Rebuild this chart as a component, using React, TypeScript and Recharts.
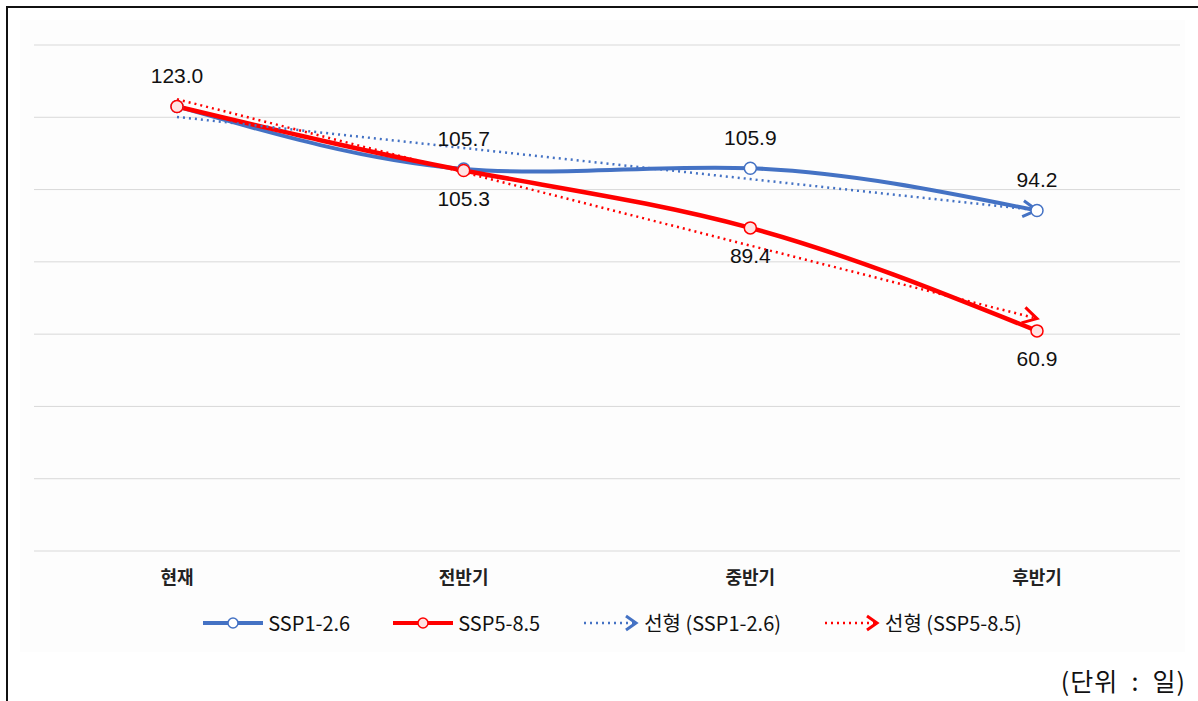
import { LineChart, Line, XAxis, YAxis, CartesianGrid, Legend, LabelList } from 'recharts';

const periods = ['현재', '전반기', '중반기', '후반기'];
const ssp126 = [123.0, 105.7, 105.9, 94.2];
const ssp585 = [123.0, 105.3, 89.4, 60.9];
// trend values
const trend126 = [120.1, 111.5, 102.9, 94.3];
const trend585 = [125.0, 104.8, 84.5, 64.3];
const yTicks = [0, 20, 40, 60, 80, 100, 120, 140];

const BLUE = '#4472C4';
const RED = '#FF0000';
const FONT = '"Liberation Sans", "Noto Sans CJK KR", sans-serif';
const KFONT = '"Noto Sans CJK KR", "Noto Sans", sans-serif';

const data = periods.map((p, i) => ({
  period: p,
  ssp126: ssp126[i],
  ssp585: ssp585[i],
  trend126: trend126[i],
  trend585: trend585[i],
}));

const legendItems = [
  { name: 'SSP1-2.6', color: BLUE, dotted: false },
  { name: 'SSP5-8.5', color: RED, dotted: false },
  { name: '선형 (SSP1-2.6)', color: BLUE, dotted: true },
  { name: '선형 (SSP5-8.5)', color: RED, dotted: true },
];

function LegendIcon({ color, dotted }: { color: string; dotted: boolean }) {
  if (dotted) {
    return (
      <svg width={58} height={20}>
        <line x1={2} y1={10} x2={52} y2={10} stroke={color} strokeWidth={2.5} strokeDasharray="2 4" />
        <path d="M44,3 L54,10 L44,17" fill="none" stroke={color} strokeWidth={3} />
      </svg>
    );
  }
  return (
    <svg width={62} height={20}>
      <line x1={1} y1={10} x2={61} y2={10} stroke={color} strokeWidth={4} />
      <circle cx={31} cy={10} r={5} fill={color === RED ? '#ffe3e3' : '#fff'} stroke={color} strokeWidth={1.5} />
    </svg>
  );
}

function CustomLegend() {
  return (
    <div style={{ display: 'flex', justifyContent: 'center', paddingTop: 7, paddingLeft: 10 }}>
      {legendItems.map((it) => (
        <div key={it.name} style={{ display: 'flex', alignItems: 'center', margin: '0 21px' }}>
          <LegendIcon color={it.color} dotted={it.dotted} />
          <span style={{ fontFamily: KFONT, fontSize: 20, color: '#111', marginLeft: 4 }}>{it.name}</span>
        </div>
      ))}
    </div>
  );
}

const renderBelow = (props: any) => {
  const { x, y, value, index } = props;
  if (index === 0) return null;
  return (
    <text x={x} y={y + 30} textAnchor="middle" dominantBaseline="middle" fontSize={21} fill="#111" fontFamily={FONT}>
      {Number(value).toFixed(1)}
    </text>
  );
};

const renderAbove = (props: any) => {
  const { x, y, value } = props;
  return (
    <text x={x} y={y - 29} textAnchor="middle" dominantBaseline="middle" fontSize={21} fill="#111" fontFamily={FONT}>
      {Number(value).toFixed(1)}
    </text>
  );
};

export default function App() {
  return (
    <div style={{ position: 'absolute', left: 0, top: 0, width: 1198, height: 701, overflow: 'hidden', background: '#fff' }}>
      <div
        style={{
          position: 'absolute',
          left: 6,
          top: 6,
          width: 1300,
          height: 800,
          borderTop: '2px solid #111',
          borderLeft: '2px solid #111',
        }}
      />
      <div style={{ position: 'absolute', left: 20, top: 20, width: 1165, height: 632, background: '#fdfdfd' }} />
      <div style={{ position: 'absolute', left: 0, top: 0 }}>
        <LineChart width={1198} height={660} data={data} margin={{ top: 45, right: 18, left: 34, bottom: 0 }}>
          <defs>
            <marker id="arrowBlue" viewBox="0 0 20 20" refX={17} refY={10} markerWidth={20} markerHeight={20} markerUnits="userSpaceOnUse" orient="auto">
              <path d="M3,2 L17,10 L3,18" fill="none" stroke={BLUE} strokeWidth={3} strokeDasharray="none" />
            </marker>
            <marker id="arrowRed" viewBox="0 0 20 20" refX={17} refY={10} markerWidth={20} markerHeight={20} markerUnits="userSpaceOnUse" orient="auto">
              <path d="M3,2 L17,10 L3,18" fill="none" stroke={RED} strokeWidth={3} strokeDasharray="none" />
            </marker>
          </defs>
          <CartesianGrid vertical={false} stroke="#d9d9d9" strokeWidth={1} />
          <XAxis
            dataKey="period"
            axisLine={false}
            tickLine={false}
            height={50}
            tickMargin={14}
            tick={{ fontSize: 18, fontWeight: 700, fill: '#222', fontFamily: KFONT }}
            padding={{ left: 143, right: 143 }}
          />
          <YAxis hide domain={[0, 140]} ticks={yTicks} />
          <Legend verticalAlign="bottom" height={59} content={() => <CustomLegend />} />
          <Line
            type="natural"
            dataKey="ssp126"
            stroke={BLUE}
            strokeWidth={4}
            dot={{ r: 6, fill: '#fff', stroke: BLUE, strokeWidth: 1.5 }}
            isAnimationActive={false}
          >
            <LabelList dataKey="ssp126" content={renderAbove} />
          </Line>
          <Line
            type="natural"
            dataKey="ssp585"
            stroke={RED}
            strokeWidth={4.5}
            dot={{ r: 6, fill: '#ffe3e3', stroke: RED, strokeWidth: 1.5 }}
            isAnimationActive={false}
          >
            <LabelList dataKey="ssp585" content={renderBelow} />
          </Line>
          <Line
            type="linear"
            dataKey="trend126"
            stroke={BLUE}
            strokeWidth={2.5}
            strokeDasharray="2 4"
            dot={false}
            markerEnd="url(#arrowBlue)"
            isAnimationActive={false}
          />
          <Line
            type="linear"
            dataKey="trend585"
            stroke={RED}
            strokeWidth={2.5}
            strokeDasharray="2 4"
            dot={false}
            markerEnd="url(#arrowRed)"
            isAnimationActive={false}
          />
        </LineChart>
      </div>
      <div
        style={{
          position: 'absolute',
          right: 12,
          top: 664,
          fontFamily: KFONT,
          fontSize: 25,
          lineHeight: '32px',
          color: '#111',
          whiteSpace: 'pre',
          letterSpacing: 1,
        }}
      >
        {'(단위  :  일)'}
      </div>
    </div>
  );
}
